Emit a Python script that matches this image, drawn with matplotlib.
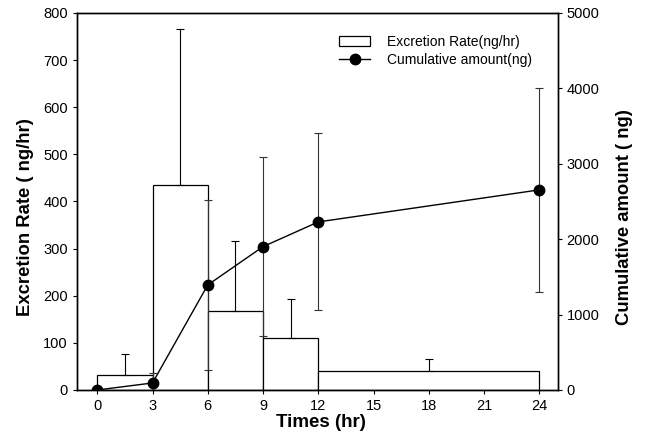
import matplotlib
matplotlib.use("Agg")
import matplotlib.pyplot as plt
import numpy as np

plt.rcParams['font.family'] = ['Liberation Sans', 'DejaVu Sans']

# Excretion rate bars (interval start, width, height, upper error)
bar_start = [0, 3, 6, 9, 12]
bar_width = [3, 3, 3, 3, 12]
bar_rate = [32, 435, 168, 110, 40]
bar_err = [45, 331, 148, 83, 25]

# Cumulative amount
cum_t = [0, 3, 6, 9, 12, 24]
cum_amt = [0, 93, 1393, 1901, 2229, 2654]
cum_err = [0, 137, 1127, 1187, 1174, 1349]

xticks = [0, 3, 6, 9, 12, 15, 18, 21, 24]

fig = plt.figure(figsize=(6.47, 4.48), dpi=100)
ax = fig.add_axes([0.119, 0.1295, 0.743, 0.8415])
ax2 = ax.twinx()

bars = ax.bar(bar_start, bar_rate, width=bar_width, align='edge',
              facecolor='white', edgecolor='black', linewidth=0.9,
              label='Excretion Rate(ng/hr)', zorder=2)
mids = [s + w / 2 for s, w in zip(bar_start, bar_width)]
ax.errorbar(mids, bar_rate, yerr=[np.zeros(len(bar_err)), bar_err], fmt='none',
            ecolor='black', elinewidth=0.8, capsize=3, capthick=0.8, zorder=3)

ax2.errorbar(cum_t, cum_amt, yerr=cum_err, fmt='none', ecolor='#333333',
             elinewidth=0.8, capsize=3, capthick=0.8, zorder=3)
line, = ax2.plot(cum_t, cum_amt, '-o', color='black', markersize=7.5,
                 linewidth=1.0, label='Cumulative amount(ng)', zorder=4)

ax.set_xlim(-1.1, 25)
ax.set_ylim(0, 800)
ax2.set_ylim(0, 5000)
ax.set_xticks(xticks)
ax.set_yticks(range(0, 801, 100))
ax2.set_yticks(range(0, 5001, 1000))

for a in (ax, ax2):
    a.tick_params(labelsize=10.5, length=3, width=0.8, direction='out')
    for s in a.spines.values():
        s.set_linewidth(1.0)

ax.set_xlabel('Times (hr)', fontsize=13.5, fontweight='bold', labelpad=1)
ax.xaxis.label.set_x(0.508)
ax.set_ylabel('Excretion Rate ( ng/hr)', fontsize=13.3, fontweight='bold', labelpad=7)
ax.yaxis.label.set_y(0.46)
ax2.set_ylabel('Cumulative amount ( ng)', fontsize=13.3, fontweight='bold', labelpad=12)
ax2.yaxis.label.set_y(0.46)

ax2.legend([bars, line], ['Excretion Rate(ng/hr)', 'Cumulative amount(ng)'],
           loc='upper left', bbox_to_anchor=(0.52, 0.975), frameon=False,
           fontsize=10, handlelength=2.2, handletextpad=1.2, labelspacing=0.3)

fig.savefig('out.png', dpi=100)
